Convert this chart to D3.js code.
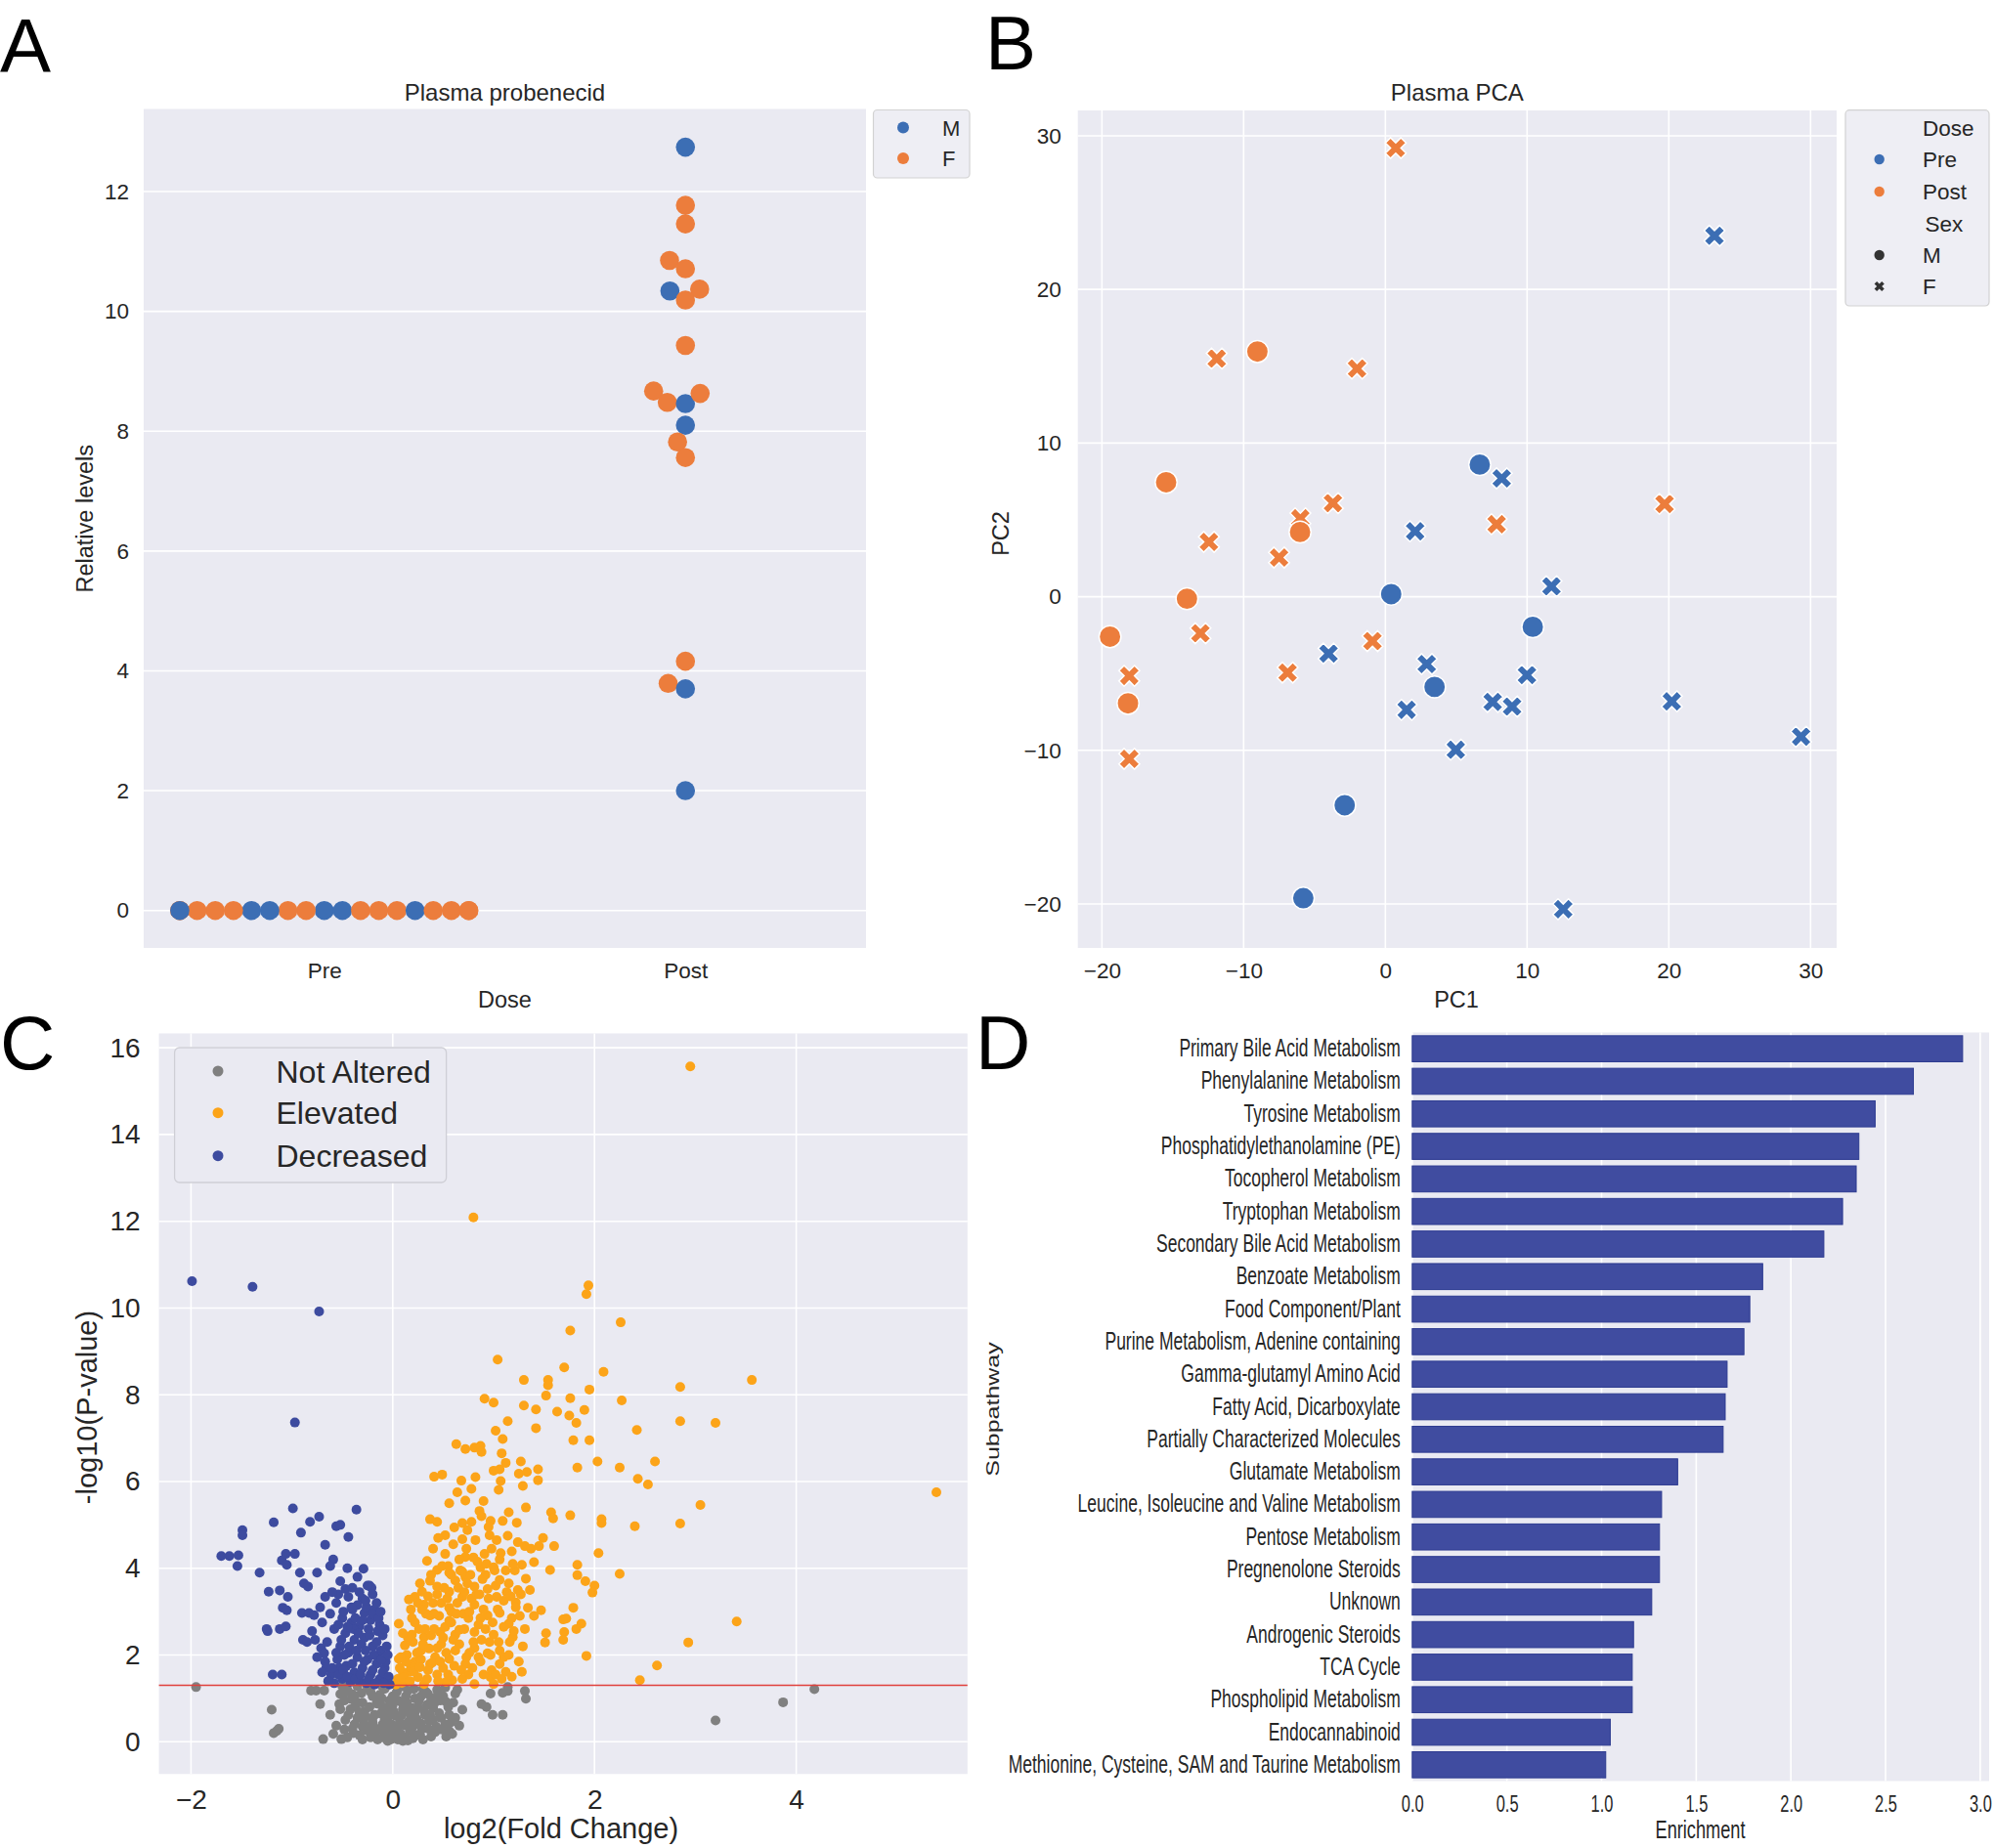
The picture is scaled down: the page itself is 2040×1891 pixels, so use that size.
<!DOCTYPE html>
<html><head><meta charset="utf-8">
<script src="https://cdn.jsdelivr.net/npm/d3@7"></script>
<style>
body{margin:0;background:#fff}
svg{display:block}
text{font-family:"Liberation Sans",Arial,sans-serif;fill:#262626}
.letter{font-family:"Liberation Sans",Arial,sans-serif;fill:#000;font-size:78px}
</style>
</head><body>
<svg id="fig" width="2040" height="1891"></svg>
<script>
// ---------------- DATA ----------------
// Panel A: Plasma probenecid (swarm)
const doseCats = ["Pre", "Post"];
const preLevels = [0,0,0,0,0,0,0,0,0,0,0,0,0,0,0,0,0,0,0,0];
const preSex = ["M","F","M","F","F","M","F","M","F","F","M","F","F","F","F","F","F","F","F","M"];
const postLevels = [12.74,11.77,11.46,10.85,10.71,10.34,10.37,10.19,9.43,8.67,8.48,8.46,8.63,8.10,7.82,7.56,4.16,3.79,3.70,2.00];
const postSex = ["M","F","F","F","F","M","F","F","F","F","F","M","F","M","F","F","F","F","M","M"];
const aTicks = [0,2,4,6,8,10,12];

// Panel B: Plasma PCA
const pc1 = [0.73,-11.9,-2.0,-12.45,-3.7,-6.0,-7.5,-13.05,-0.91,-6.9,-18.07,-18.07,7.85,19.7,
             -9.03,-15.47,-6.02,-14.0,-19.43,-18.16,
             6.66,0.41,10.4,3.47,-2.87,-5.79,
             23.22,8.21,2.1,11.72,-4.01,2.92,1.5,7.57,8.94,9.99,4.97,20.21,29.33,12.55];
const pc2 = [29.2,15.5,14.85,3.57,6.09,5.1,2.55,-2.38,-2.89,-4.94,-5.15,-10.55,4.72,6.04,
             15.96,7.45,4.21,-0.13,-2.6,-6.94,
             8.6,0.17,-1.96,-5.87,-13.57,-19.62,
             23.49,7.7,4.26,0.68,-3.70,-4.38,-7.36,-6.85,-7.15,-5.1,-9.96,-6.81,-9.11,-20.34];
const pcaDose = ["Post","Post","Post","Post","Post","Post","Post","Post","Post","Post","Post","Post","Post","Post",
                 "Post","Post","Post","Post","Post","Post",
                 "Pre","Pre","Pre","Pre","Pre","Pre",
                 "Pre","Pre","Pre","Pre","Pre","Pre","Pre","Pre","Pre","Pre","Pre","Pre","Pre","Pre"];
const pcaSex = ["F","F","F","F","F","F","F","F","F","F","F","F","F","F",
                "M","M","M","M","M","M",
                "M","M","M","M","M","M",
                "F","F","F","F","F","F","F","F","F","F","F","F","F","F"];
const bTicks = [-20,-10,0,10,20,30];

// Panel C: volcano plot  [log2 fold change, -log10 p]
const notAltered = [[-1.95,1.26],[-1.20,0.74],[-1.15,0.25],[-1.13,0.30],[-1.18,0.20],[-0.81,1.18],[-0.76,1.18],[-0.72,0.87],
 [-0.68,1.18],[-0.53,0.87],[-0.62,0.62],[-0.69,0.06],[-0.59,0.18],[-0.51,0.06],[-0.56,0.37],[0.88,0.87],[0.93,0.80],
 [0.97,1.11],[1.09,1.13],[1.14,1.26],[1.14,1.17],[1.31,1.17],[1.32,0.99],[0.99,0.62],[1.09,0.62],[0.66,0.37],[0.69,0.74],
 [0.53,0.12],[0.56,0.25],[0.62,1.11],[3.20,0.49],[3.87,0.91],[4.18,1.21],
 [-0.45,1.20],[-0.38,1.05],[-0.30,0.90],[-0.22,1.15],[-0.15,0.95],[-0.08,1.22],[0.00,1.05],[0.08,0.92],[0.15,1.18],
 [0.22,1.00],[0.30,1.22],[0.38,0.95],[0.45,1.12],[0.52,1.25],[-0.42,0.75],[-0.35,0.55],[-0.28,0.70],[-0.20,0.45],
 [-0.12,0.65],[-0.05,0.80],[0.03,0.60],[0.10,0.75],[0.18,0.55],[0.25,0.80],[0.32,0.62],[0.40,0.78],[0.48,0.55],
 [-0.40,0.30],[-0.33,0.15],[-0.25,0.35],[-0.18,0.20],[-0.10,0.40],[-0.02,0.15],[0.05,0.30],[0.12,0.10],[0.20,0.35],
 [0.27,0.18],[0.35,0.30],[0.42,0.22],[-0.15,0.05],[-0.05,0.02],[0.05,0.05],[0.15,0.03],[-0.48,0.95],[-0.47,0.50],
 [0.55,0.80],[0.58,0.45],[-0.25,1.25],[0.10,1.28],[-0.35,1.28],[0.35,1.10],[-0.08,0.50],[0.15,0.45],[-0.30,0.05],
 [0.30,0.05],[-0.52,1.10],[0.47,0.95],[0.00,0.30],[-0.12,0.85],[0.22,0.68],[-0.20,1.05],[0.05,0.95],[0.28,0.42],
 [-0.38,0.40],[0.40,0.50],[-0.45,0.10],
 [-0.50,1.28],[-0.46,1.15],[-0.41,0.98],[-0.37,0.82],[-0.33,0.68],[-0.29,0.48],[-0.26,0.26],[-0.22,0.10],[-0.18,0.62],
 [-0.16,0.88],[-0.13,1.08],[-0.10,1.27],[-0.07,0.72],[-0.04,0.58],[-0.01,0.40],[0.02,0.22],[0.04,1.15],[0.07,0.45],
 [0.09,0.62],[0.11,0.85],[0.13,1.05],[0.17,0.25],[0.19,0.78],[0.21,1.22],[0.24,0.52],[0.26,0.95],[0.29,0.30],[0.31,0.72],
 [0.33,1.15],[0.36,0.48],[0.38,0.12],[0.41,0.88],[0.43,0.35],[0.46,0.66],[0.50,1.05],[0.52,0.40],[0.56,0.62],[0.60,0.90],
 [0.64,1.20],[-0.44,0.62],[-0.39,0.20],[-0.35,0.90],[-0.31,1.12],[-0.27,0.58],[-0.23,0.80],[-0.19,0.35],[-0.14,0.28],
 [-0.11,1.00],[-0.06,0.20],[-0.03,0.95],[0.01,0.70],[0.06,1.25],[0.08,0.18],[0.12,0.38],[0.16,0.68],[0.23,0.15],
 [0.28,1.05],[0.34,0.85],[0.37,0.62],[0.44,1.20],[0.49,0.28],[0.53,0.92],[-0.48,0.28],[-0.52,0.75],[-0.40,1.10],
 [0.59,0.18],[0.62,0.55],[-0.02,0.05],[0.10,0.02],[-0.10,0.10],[0.20,0.08],[-0.20,0.55],[0.00,0.85],[0.14,0.90],
 [-0.30,0.35],[0.40,1.00],[-0.08,0.35],[0.26,0.40]];
const elevated = [[2.95,15.57],[0.80,12.09],[1.94,10.52],[1.92,10.32],[2.26,9.67],[1.76,9.48],[1.04,8.81],[1.70,8.63],
 [2.09,8.53],[1.30,8.34],[1.54,8.34],[1.54,8.22],[3.56,8.34],[2.85,8.18],[1.95,8.12],[1.52,7.98],[0.91,7.91],[1.00,7.82],
 [1.76,7.92],[2.27,7.87],[1.30,7.75],[1.42,7.66],[1.63,7.61],[1.90,7.65],[1.75,7.52],[1.82,7.35],[1.14,7.39],[2.85,7.39],
 [3.20,7.35],[1.42,7.23],[1.02,7.17],[2.42,7.19],[1.09,6.98],[1.79,6.95],[1.95,6.95],[0.63,6.86],[0.72,6.75],[0.81,6.78],
 [0.87,6.82],[0.88,6.68],[1.08,6.65],[1.12,6.43],[1.27,6.46],[2.03,6.46],[2.60,6.46],[1.06,6.28],[1.25,6.18],[1.83,6.32],
 [2.25,6.32],[1.33,6.22],[1.44,6.28],[0.49,6.16],[0.41,6.11],[0.68,6.02],[1.07,6.01],[1.44,6.03],[2.43,6.06],[2.53,5.93],
 [0.64,5.75],[0.78,5.83],[1.05,5.81],[1.29,5.90],[5.39,5.75],[0.56,5.50],[0.72,5.56],[3.05,5.46],[0.86,5.32],[1.15,5.29],
 [1.57,5.29],[1.59,5.15],[1.76,5.22],[2.07,5.13],[2.07,5.04],[0.37,5.13],[0.44,5.07],[0.69,5.04],[0.78,5.07],[0.97,5.09],
 [1.09,5.09],[2.40,4.97],[2.85,5.03],[0.61,4.94],[0.74,4.88],[0.69,4.67],[0.52,4.76],[0.96,4.76],[1.31,4.51],[1.37,4.45],
 [1.49,4.70],[1.45,4.51],[1.60,4.51],[2.04,4.35],[0.73,4.45],[0.72,4.26],[0.91,4.33],[1.06,4.20],[1.18,4.39],[0.52,4.33],
 [0.66,4.20],[0.34,4.17],[1.56,3.96],[1.83,4.08],[2.25,3.87],[1.28,4.08],[1.40,4.14],[0.87,4.02],[1.00,4.02],[0.44,3.96],
 [0.56,3.90],[0.69,3.92],[0.72,3.80],[1.83,3.84],[1.91,3.70],[2.00,3.60],[1.98,3.44],[1.32,3.76],[1.06,3.73],[1.15,3.65],
 [0.37,3.71],[0.44,3.58],[0.81,3.58],[0.94,3.52],[1.27,3.40],[0.29,3.46],[0.44,3.40],[0.56,3.46],[0.22,3.34],[0.69,3.34],
 [1.03,3.34],[0.16,3.28],[0.31,3.16],[0.56,3.09],[0.81,3.16],[1.79,3.09],[1.34,3.09],[1.22,3.21],[1.69,2.82],[1.47,3.03],
 [0.06,2.72],[0.19,2.85],[0.37,2.91],[0.56,2.79],[0.75,2.85],[0.94,2.91],[1.06,2.97],[1.15,2.72],[1.72,2.84],[1.87,2.72],
 [1.82,2.60],[1.52,2.50],[1.70,2.53],[3.41,2.77],[0.19,2.47],[0.31,2.41],[0.47,2.53],[0.62,2.47],[0.81,2.53],[1.00,2.47],
 [1.19,2.41],[1.31,2.60],[1.51,2.29],[1.69,2.35],[2.93,2.29],[1.92,1.98],[0.12,2.22],[0.28,2.10],[0.44,2.16],[0.62,2.10],
 [0.81,2.16],[0.94,2.04],[1.06,2.10],[0.06,1.91],[0.22,1.85],[0.37,1.79],[0.56,1.91],[0.72,1.79],[0.87,1.85],[1.06,1.79],
 [2.62,1.76],[2.45,1.42],[0.16,1.61],[0.25,1.49],[0.44,1.55],[0.59,1.42],[0.75,1.55],[0.97,1.49],[1.12,1.61],[1.28,1.61],
 [0.09,1.36],[0.31,1.33],[0.53,1.38],[0.81,1.33],[1.00,1.33],[0.10,1.60],[0.14,2.00],[0.20,2.30],[0.26,2.60],[0.33,2.95],
 [0.40,3.20],[0.48,2.25],[0.52,2.65],[0.58,3.00],[0.65,3.55],[0.70,2.95],[0.78,3.30],[0.85,2.70],[0.90,3.05],[0.96,2.30],
 [1.02,3.60],[1.10,3.25],[1.18,2.85],[1.24,3.50],[0.35,1.65],[0.42,1.95],[0.50,1.70],[0.60,2.35],[0.68,1.65],[0.76,2.05],
 [0.88,2.35],[0.98,1.65],[1.10,1.95],[1.16,2.30],[0.05,1.45],[0.18,1.75],[0.28,1.90],[0.38,2.45],[0.46,2.90],[0.66,2.58],
 [0.74,3.65],[0.92,3.85],[0.98,4.45],[1.21,3.95],[1.36,3.50],[1.40,2.90],[0.55,4.05],[0.62,3.72],[0.84,4.15],[0.95,4.95],
 [1.14,4.75],[1.32,5.40],[1.23,5.05],[0.90,5.55],[1.00,6.25],[0.82,6.10],
 [0.03,1.32],[0.07,1.70],[0.11,1.48],[0.13,1.85],[0.17,1.40],[0.21,1.62],[0.24,2.05],[0.27,1.72],[0.30,2.25],[0.34,1.45],
 [0.36,2.15],[0.39,1.82],[0.41,2.60],[0.45,1.40],[0.47,1.85],[0.50,2.40],[0.53,2.05],[0.55,1.55],[0.58,2.75],[0.61,1.75],
 [0.63,2.95],[0.66,2.25],[0.69,1.45],[0.71,2.60],[0.73,1.95],[0.76,3.00],[0.79,1.70],[0.80,2.30],[0.83,3.40],[0.85,1.95],
 [0.87,2.85],[0.90,1.55],[0.92,2.60],[0.95,3.30],[0.97,2.00],[0.99,2.75],[1.02,1.55],[1.04,3.05],[1.05,2.30],[1.08,1.45],
 [1.10,2.65],[1.13,3.45],[1.15,2.00],[1.18,1.50],[1.20,2.55],[1.22,3.10],[1.25,1.85],[1.26,2.90],[1.29,2.20],[0.15,2.40],
 [0.22,2.75],[0.29,3.05],[0.32,2.60],[0.35,3.35],[0.41,2.95],[0.48,3.20],[0.51,3.55],[0.54,3.30],[0.58,3.85],[0.64,3.20],
 [0.67,3.95],[0.71,3.45],[0.77,3.85],[0.80,4.25],[0.86,3.40],[0.89,3.75],[0.93,4.10],[1.01,3.95],[1.07,4.35],[1.12,3.95],
 [1.17,3.35],[1.19,4.10],[1.24,4.60],[0.40,4.45],[0.45,4.70],[0.60,4.55],[0.82,4.65],[0.88,5.20],[1.03,4.65],[0.08,1.95],
 [0.10,2.50],[0.18,3.05],[0.25,3.20],[0.27,3.65],[0.49,4.05],[0.38,3.85]];
const decreased = [[-1.99,10.62],[-1.39,10.49],[-0.73,9.92],[-0.97,7.36],[-1.70,4.28],[-1.62,4.28],[-1.53,4.30],[-1.49,4.88],
 [-1.49,4.76],[-1.54,4.05],[-1.32,3.90],[-1.18,5.06],[-0.99,5.38],[-0.82,5.07],[-0.73,5.19],[-0.56,4.97],[-0.52,5.00],
 [-0.44,4.72],[-0.36,5.35],[-0.91,4.82],[-0.67,4.54],[-1.10,4.18],[-1.06,4.33],[-0.97,4.33],[-1.05,4.08],[-0.59,4.20],
 [-0.62,4.05],[-0.29,3.99],[-0.92,3.90],[-1.23,3.46],[-1.12,3.49],[-1.04,3.34],[-0.88,3.65],[-0.84,3.58],[-0.75,3.90],
 [-0.67,3.34],[-0.54,3.40],[-0.47,3.52],[-0.23,3.60],[-0.21,3.55],[-1.09,3.09],[-1.05,3.03],[-0.90,2.97],[-0.83,2.97],
 [-0.78,2.92],[-1.12,2.60],[-1.06,2.66],[-1.24,2.55],[-1.25,2.60],[-0.89,2.35],[-0.85,2.30],[-0.77,2.35],[-0.71,2.16],
 [-0.68,2.04],[-0.67,1.85],[-1.19,1.55],[-1.10,1.55],[-0.66,1.70],[-0.61,1.55],[-0.53,1.70],[-0.56,3.20],[-0.44,3.34],
 [-0.35,3.15],[-0.28,2.97],[-0.50,2.85],[-0.41,2.75],[-0.33,2.66],[-0.22,2.80],[-0.15,2.55],[-0.47,2.50],[-0.38,2.35],
 [-0.28,2.40],[-0.20,2.20],[-0.12,2.10],[-0.52,2.20],[-0.44,2.05],[-0.35,1.95],[-0.25,1.90],[-0.16,1.80],[-0.08,1.70],
 [-0.55,1.90],[-0.46,1.75],[-0.38,1.60],[-0.30,1.70],[-0.22,1.55],[-0.13,1.45],[-0.05,1.40],[-0.50,1.45],[-0.42,1.38],
 [-0.33,1.40],[-0.26,1.35],[-0.18,1.32],[-0.58,2.60],[-0.62,2.95],[-0.30,3.30],[-0.40,3.05],[-0.18,3.05],[-0.10,2.45],
 [-0.25,3.60],[-0.35,3.80],[-0.45,4.00],
 [-0.58,1.35],[-0.54,1.55],[-0.49,1.65],[-0.45,1.50],[-0.40,1.80],[-0.37,1.45],[-0.32,1.55],[-0.28,1.85],[-0.24,1.45],
 [-0.20,1.65],[-0.17,1.35],[-0.14,1.95],[-0.10,1.60],[-0.07,1.85],[-0.04,1.50],[-0.03,1.32],[-0.09,1.35],[-0.56,2.05],
 [-0.51,2.35],[-0.48,2.00],[-0.43,2.20],[-0.39,2.60],[-0.36,2.10],[-0.31,2.25],[-0.27,2.10],[-0.23,2.45],[-0.19,2.00],
 [-0.16,2.30],[-0.13,2.70],[-0.11,1.90],[-0.06,2.20],[-0.54,2.70],[-0.49,3.00],[-0.45,2.65],[-0.41,3.10],[-0.37,2.85],
 [-0.34,2.50],[-0.30,2.80],[-0.26,3.10],[-0.24,2.60],[-0.20,2.95],[-0.16,3.20],[-0.14,2.85],[-0.60,1.70],[-0.65,2.30],
 [-0.70,2.75],[-0.72,3.10],[-0.60,3.45],[-0.52,3.70],[-0.40,3.55],[-0.33,3.45],[-0.27,3.25],[-0.20,3.40],[-0.12,3.00],
 [-0.08,2.60],[-0.05,2.00],[-0.64,1.40],[-0.70,1.60],[-0.75,1.95],[-0.80,2.55]];
const pThreshold = 1.301;
const cXTicks = [-2,0,2,4];
const cYTicks = [0,2,4,6,8,10,12,14,16];
const cLegend = ["Not Altered","Elevated","Decreased"];

// Panel D: enrichment
const subpathways = ["Primary Bile Acid Metabolism","Phenylalanine Metabolism","Tyrosine Metabolism",
 "Phosphatidylethanolamine (PE)","Tocopherol Metabolism","Tryptophan Metabolism","Secondary Bile Acid Metabolism",
 "Benzoate Metabolism","Food Component/Plant","Purine Metabolism, Adenine containing","Gamma-glutamyl Amino Acid",
 "Fatty Acid, Dicarboxylate","Partially Characterized Molecules","Glutamate Metabolism",
 "Leucine, Isoleucine and Valine Metabolism","Pentose Metabolism","Pregnenolone Steroids","Unknown",
 "Androgenic Steroids","TCA Cycle","Phospholipid Metabolism","Endocannabinoid",
 "Methionine, Cysteine, SAM and Taurine Metabolism"];
const enrichment = [2.907,2.647,2.445,2.359,2.345,2.273,2.174,1.851,1.783,1.752,1.663,1.653,1.642,1.402,
 1.317,1.306,1.306,1.265,1.169,1.162,1.162,1.046,1.022];
const dTicks = [0,0.5,1.0,1.5,2.0,2.5,3.0];

// ---------------- STYLE ----------------
const BG = "#eaeaf2", BLUE = "#3c6eb4", ORANGE = "#ec7d3c";
const VGRAY = "#808080", VORANGE = "#fca419", VBLUE = "#3d4b9f";
const svg = d3.select("#fig");

function gridH(g, ys, x0, x1){ g.selectAll(null).data(ys).enter().append("line")
  .attr("x1",x0).attr("x2",x1).attr("y1",d=>d).attr("y2",d=>d).attr("stroke","#fff").attr("stroke-width",1.6); }
function gridV(g, xs, y0, y1){ g.selectAll(null).data(xs).enter().append("line")
  .attr("y1",y0).attr("y2",y1).attr("x1",d=>d).attr("x2",d=>d).attr("stroke","#fff").attr("stroke-width",1.6); }
function styleAxis(sel, size){ sel.select(".domain").remove(); sel.selectAll("text").attr("fill","#262626").style("font-size",size+"px").style("font-family",'"Liberation Sans",Arial,sans-serif'); }

// ---------------- PANEL A ----------------
(function(){
  const L=147, R=886, T=111.5, B=970;
  const y = d3.scaleLinear().domain([-0.625, 13.378]).range([B, T]);
  const x = d3.scaleLinear().domain([-0.5, 1.5]).range([L, R]);
  const g = svg.append("g");
  g.append("rect").attr("x",L).attr("y",T).attr("width",R-L).attr("height",B-T).attr("fill",BG);
  gridH(g, aTicks.map(y), L, R);
  const ya = g.append("g").attr("transform",`translate(${L},0)`).call(d3.axisLeft(y).tickValues(aTicks).tickSize(0).tickPadding(15));
  styleAxis(ya, 22.5);
  const xa = g.append("g").attr("transform",`translate(0,${B})`)
     .call(d3.axisBottom(x).tickValues([0,1]).tickFormat(i=>doseCats[i]).tickSize(0).tickPadding(15));
  styleAxis(xa, 22.5);
  xa.selectAll("text").attr("dy","0.71em").attr("y",15);

  function swarm(vals, cx, d, half){
    const idx = d3.range(vals.length).sort((a,b)=>(vals[a]-vals[b])||(a-b));
    const placed=[], out=new Array(vals.length);
    for(const i of idx){
      const py = y(vals[i]);
      const nb = placed.filter(p=>Math.abs(p.y-py)<d);
      const cands=[0]; let lf=true;
      for(const p of nb){
        const dy=py-p.y, dx=Math.sqrt(Math.max(d*d-dy*dy,0))*1.05;
        if(lf) cands.push(p.x-dx,p.x+dx); else cands.push(p.x+dx,p.x-dx);
        lf=!lf;
      }
      const ord=cands.map((c,k)=>[c,k]).sort((a,b)=>(Math.abs(a[0])-Math.abs(b[0]))||(a[1]-b[1])).map(a=>a[0]);
      let xo=ord.find(c=>nb.every(p=>Math.hypot(c-p.x,py-p.y)>=d-1e-6));
      if(xo===undefined) xo=0;
      placed.push({x:xo,y:py});
      out[i]={x:cx+Math.max(-half,Math.min(half,xo)),y:py};
    }
    return out;
  }
  const band = x(1)-x(0), D=17.7, half=0.4*band;
  const prePts = swarm(preLevels, x(0), D, half).map((p,i)=>({...p,s:preSex[i]}));
  const postPts = swarm(postLevels, x(1), D, half).map((p,i)=>({...p,s:postSex[i]}));
  g.selectAll(null).data(prePts.concat(postPts)).enter().append("circle")
    .attr("cx",d=>d.x).attr("cy",d=>d.y).attr("r",9.8).attr("fill",d=>d.s==="M"?BLUE:ORANGE);

  g.append("text").attr("x",(L+R)/2).attr("y",103).attr("text-anchor","middle").style("font-size","24px").text("Plasma probenecid");
  g.append("text").attr("x",(L+R)/2).attr("y",1031).attr("text-anchor","middle").style("font-size","23.5px").text("Dose");
  g.append("text").attr("transform",`translate(95,${(T+B)/2-10}) rotate(-90)`).attr("text-anchor","middle").style("font-size","23.5px").text("Relative levels");
  const lg = g.append("g");
  lg.append("rect").attr("x",893.5).attr("y",112.5).attr("width",98.5).attr("height",69.5).attr("rx",4)
    .attr("fill","#eeeef4").attr("stroke","#d2d2d2").attr("stroke-width",1.2);
  const lrows=[{s:"M",y:130.6},{s:"F",y:162}];
  lrows.forEach(r=>{
    lg.append("circle").attr("cx",924).attr("cy",r.y).attr("r",6).attr("fill",r.s==="M"?BLUE:ORANGE);
    lg.append("text").attr("x",964).attr("y",r.y+8).style("font-size","22px").text(r.s);
  });
  svg.append("text").attr("class","letter").attr("x",0).attr("y",73.5).text("A");
})();

// ---------------- PANEL B ----------------
const plus=[[-1,-3],[1,-3],[1,-1],[3,-1],[3,1],[1,1],[1,3],[-1,3],[-1,1],[-3,1],[-3,-1],[-1,-1]];
function xPath(u){ const c=Math.SQRT1_2; return "M"+plus.map(([a,b])=>[((a-b)*c*u).toFixed(2),((a+b)*c*u).toFixed(2)].join(",")).join("L")+"Z"; }
(function(){
  const L=1102.7, R=1879, T=113, B=970;
  const x = d3.scaleLinear().domain([-21.70, 31.84]).range([L, R]);
  const y = d3.scaleLinear().domain([-22.86, 31.65]).range([B, T]);
  const g = svg.append("g");
  g.append("rect").attr("x",L).attr("y",T).attr("width",R-L).attr("height",B-T).attr("fill",BG);
  gridH(g, bTicks.map(y), L, R);
  gridV(g, bTicks.map(x), T, B);
  const ya = g.append("g").attr("transform",`translate(${L},0)`).call(d3.axisLeft(y).tickValues(bTicks).tickSize(0).tickPadding(17));
  styleAxis(ya, 22.5);
  const xa = g.append("g").attr("transform",`translate(0,${B})`).call(d3.axisBottom(x).tickValues(bTicks).tickSize(0).tickPadding(15));
  styleAxis(xa, 22.5);
  xa.selectAll("text").attr("dy","0.71em").attr("y",15);
  const pts = pc1.map((v,i)=>({x:x(v),y:y(pc2[i]),d:pcaDose[i],s:pcaSex[i]}));
  pts.forEach(p=>{
    const col = p.d==="Pre"?BLUE:ORANGE;
    if(p.s==="M") g.append("circle").attr("cx",p.x).attr("cy",p.y).attr("r",11.2).attr("fill",col).attr("stroke","#fff").attr("stroke-width",1.5);
    else g.append("path").attr("d",xPath(3.75)).attr("transform",`translate(${p.x},${p.y})`).attr("fill",col).attr("stroke","#fff").attr("stroke-width",1.5);
  });
  g.append("text").attr("x",(L+R)/2).attr("y",103).attr("text-anchor","middle").style("font-size","24px").text("Plasma PCA");
  g.append("text").attr("x",1490).attr("y",1031).attr("text-anchor","middle").style("font-size","23.5px").text("PC1");
  g.append("text").attr("transform",`translate(1032,546) rotate(-90)`).attr("text-anchor","middle").style("font-size","23.5px").text("PC2");
  const lg = g.append("g");
  lg.append("rect").attr("x",1888).attr("y",112.7).attr("width",147).attr("height",200.3).attr("rx",4)
    .attr("fill","#eeeef4").attr("stroke","#d2d2d2").attr("stroke-width",1.2);
  const rows=[{t:"Dose",y:130.7},{t:"Pre",y:163,c:BLUE,m:"o"},{t:"Post",y:196,c:ORANGE,m:"o"},{t:"Sex",y:229},
              {t:"M",y:261,c:"#333",m:"o"},{t:"F",y:293,c:"#333",m:"x"}];
  rows.forEach(r=>{
    if(r.m==="o") lg.append("circle").attr("cx",1922.7).attr("cy",r.y).attr("r",5.2).attr("fill",r.c);
    if(r.m==="x") lg.append("path").attr("d",xPath(1.8)).attr("transform",`translate(1922.7,${r.y})`).attr("fill",r.c);
    lg.append("text").attr("x",r.t==="Sex"?1969.5:1967).attr("y",r.y+8).style("font-size","22.5px").text(r.t);
  });
  svg.append("text").attr("class","letter").attr("x",1008).attr("y",71).text("B");
})();

// ---------------- PANEL C ----------------
(function(){
  const L=162.6, R=989.8, T=1057.5, B=1815.3;
  const x = d3.scaleLinear().domain([-2.318, 5.698]).range([L, R]);
  const y = d3.scaleLinear().domain([-0.744, 16.33]).range([B, T]);
  const g = svg.append("g");
  g.append("rect").attr("x",L).attr("y",T).attr("width",R-L).attr("height",B-T).attr("fill",BG);
  gridH(g, cYTicks.map(y), L, R);
  gridV(g, cXTicks.map(x), T, B);
  const ya = g.append("g").attr("transform",`translate(${L},0)`).call(d3.axisLeft(y).tickValues(cYTicks).tickSize(0).tickPadding(19));
  styleAxis(ya, 28);
  const xa = g.append("g").attr("transform",`translate(0,${B})`).call(d3.axisBottom(x).tickValues(cXTicks).tickSize(0).tickPadding(16));
  styleAxis(xa, 28);
  xa.selectAll("text").attr("dy","0.71em").attr("y",16);
  const groups=[{d:notAltered,c:VGRAY},{d:elevated,c:VORANGE},{d:decreased,c:VBLUE}];
  groups.forEach(gr=>{
    g.append("g").selectAll("circle").data(gr.d).enter().append("circle")
      .attr("cx",d=>x(d[0])).attr("cy",d=>y(d[1])).attr("r",5).attr("fill",gr.c);
  });
  g.append("line").attr("x1",L).attr("x2",R).attr("y1",y(pThreshold)).attr("y2",y(pThreshold))
    .attr("stroke","#e0403c").attr("stroke-width",1.6);
  g.append("text").attr("x",574).attr("y",1881).attr("text-anchor","middle").style("font-size","29px").text("log2(Fold Change)");
  g.append("text").attr("transform",`translate(99,1440) rotate(-90)`).attr("text-anchor","middle").style("font-size","29px").text("-log10(P-value)");
  const lg=g.append("g");
  lg.append("rect").attr("x",178.6).attr("y",1072).attr("width",278).attr("height",138).attr("rx",5)
    .attr("fill","#eaeaf2").attr("stroke","#cfcfd6").attr("stroke-width",1.3);
  const ly=[1096,1138.7,1182.7], lc=[VGRAY,VORANGE,VBLUE];
  cLegend.forEach((t,i)=>{
    lg.append("circle").attr("cx",223).attr("cy",ly[i]).attr("r",5.5).attr("fill",lc[i]);
    lg.append("text").attr("x",282.5).attr("y",ly[i]+11.5).style("font-size","32px").text(t);
  });
  svg.append("text").attr("class","letter").attr("x",0).attr("y",1094).text("C");
})();

// ---------------- PANEL D ----------------
(function(){
  const L=1444.8, R=2035, T=1056.5, B=1822.5, SX=0.7;
  const x = d3.scaleLinear().domain([0, (R-L)/193.7]).range([L, R]);
  const y = d3.scaleBand().domain(subpathways).range([T, B]).paddingInner(0.2).paddingOuter(0.1);
  const g = svg.append("g");
  g.append("rect").attr("x",L).attr("y",T).attr("width",R-L).attr("height",B-T).attr("fill",BG);
  gridV(g, dTicks.map(x), T, B);
  g.selectAll(null).data(subpathways).enter().append("rect")
    .attr("x",x(0)).attr("y",d=>y(d)).attr("height",y.bandwidth())
    .attr("width",(d,i)=>x(enrichment[i])-x(0))
    .attr("fill","#404ca0").attr("stroke","#2c3a90").attr("stroke-width",1);
  const ya = g.append("g").attr("transform",`translate(${L},0)`).call(d3.axisLeft(y).tickSize(0).tickPadding(12/SX));
  styleAxis(ya, 25);
  ya.selectAll("text").attr("transform",`scale(${SX},1)`);
  const xa = g.append("g").attr("transform",`translate(0,${B})`).call(d3.axisBottom(x).tickValues(dTicks).tickFormat(d3.format(".1f")).tickSize(0).tickPadding(15));
  styleAxis(xa, 23.5);
  xa.selectAll("text").attr("dy","0.71em").attr("y",15).attr("transform",`scale(${SX},1)`);
  g.append("text").attr("transform",`translate(1739.5,1881) scale(${SX},1)`).attr("text-anchor","middle").style("font-size","26px").text("Enrichment");
  g.append("text").attr("transform",`translate(1022,1442) scale(${SX},1) rotate(-90)`).attr("text-anchor","middle").style("font-size","25px").text("Subpathway");
  svg.append("text").attr("class","letter").attr("x",998).attr("y",1094).text("D");
})();
</script>
</body></html>
